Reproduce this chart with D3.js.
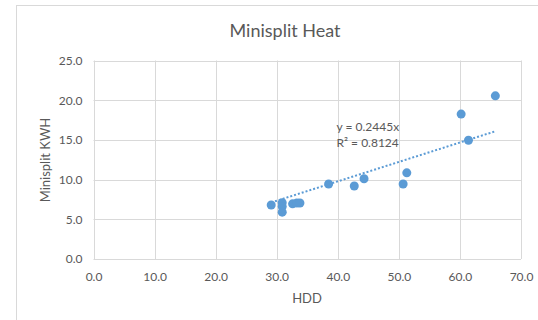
<!DOCTYPE html>
<html>
<head>
<meta charset="utf-8">
<script src="https://cdn.jsdelivr.net/npm/d3@7"></script>
<style>
  html, body { margin: 0; padding: 0; background: #fff; }
  svg text { font-family: Lato, "Open Sans", sans-serif; fill: #595959; }
</style>
</head>
<body>
<svg id="chart" width="538" height="320"></svg>
<script>
// values
const hdd = [29.1, 30.9, 30.9, 30.9, 32.6, 33.3, 33.8, 38.5, 42.7, 44.3, 50.7, 51.3, 60.2, 61.4, 65.8];
const kwh = [6.8, 7.1, 6.6, 5.9, 6.95, 7.05, 7.05, 9.45, 9.2, 10.1, 9.45, 10.85, 18.25, 14.95, 20.55];
const xTicks = [0, 10, 20, 30, 40, 50, 60, 70];
const yTicks = [0, 5, 10, 15, 20, 25];
const slope = 0.2445;
const trendLabel = ['y = 0.2445x', 'R² = 0.8124'];

const svg = d3.select('#chart');
const blue = '#5b9bd5';
const grid = '#d9d9d9';

// chart frame (runs off the right and bottom edges)
svg.append('rect')
  .attr('x', 16.5).attr('y', 5.5)
  .attr('width', 600).attr('height', 400)
  .attr('fill', 'none').attr('stroke', grid);

const x = d3.scaleLinear().domain([0, 70]).range([93.5, 521]);
const y = d3.scaleLinear().domain([0, 25]).range([259, 60.5]);

// gridlines
svg.append('g').selectAll('line').data(xTicks).join('line')
  .attr('x1', d => Math.round(x(d)) + 0.5).attr('x2', d => Math.round(x(d)) + 0.5)
  .attr('y1', y(25)).attr('y2', y(0))
  .attr('stroke', grid);
svg.append('g').selectAll('line').data(yTicks).join('line')
  .attr('y1', d => Math.round(y(d)) + 0.5).attr('y2', d => Math.round(y(d)) + 0.5)
  .attr('x1', x(0)).attr('x2', x(70))
  .attr('stroke', grid);

// axis labels via d3 axes
const xAxis = svg.append('g').attr('transform', `translate(0,${y(0)})`)
  .call(d3.axisBottom(x).tickValues(xTicks).tickFormat(d3.format('.1f')).tickSize(0).tickPadding(13));
xAxis.select('.domain').remove();
xAxis.selectAll('text').attr('font-size', 12).attr('font-family', null).attr('fill', null);

const yAxis = svg.append('g').attr('transform', `translate(${x(0)},0)`)
  .call(d3.axisLeft(y).tickValues(yTicks).tickFormat(d3.format('.1f')).tickSize(0).tickPadding(11));
yAxis.select('.domain').remove();
yAxis.selectAll('text').attr('font-size', 12).attr('font-family', null).attr('fill', null);

// trendline through origin
const xMin = d3.min(hdd), xMax = d3.max(hdd);
svg.append('line')
  .attr('x1', x(xMin)).attr('y1', y(slope * xMin))
  .attr('x2', x(xMax)).attr('y2', y(slope * xMax))
  .attr('stroke', blue).attr('stroke-width', 2)
  .attr('stroke-dasharray', '2,2');

// points
svg.append('g').selectAll('circle').data(hdd).join('circle')
  .attr('cx', d => x(d))
  .attr('cy', (d, i) => y(kwh[i]))
  .attr('r', 4.5)
  .attr('fill', blue);

// trendline label
svg.append('g').selectAll('text').data(trendLabel).join('text')
  .attr('x', 336.5)
  .attr('y', (d, i) => 131 + i * 16)
  .attr('font-size', 12)
  .text(d => d);

// titles
svg.append('text')
  .attr('x', 285).attr('y', 37)
  .attr('text-anchor', 'middle')
  .attr('font-size', 18)
  .text('Minisplit Heat');

svg.append('text')
  .attr('x', 307).attr('y', 303)
  .attr('text-anchor', 'middle')
  .attr('font-size', 13)
  .text('HDD');

svg.append('text')
  .attr('transform', `translate(50,160) rotate(-90)`)
  .attr('text-anchor', 'middle')
  .attr('font-size', 13)
  .text('Minisplit KWH');
</script>
</body>
</html>
